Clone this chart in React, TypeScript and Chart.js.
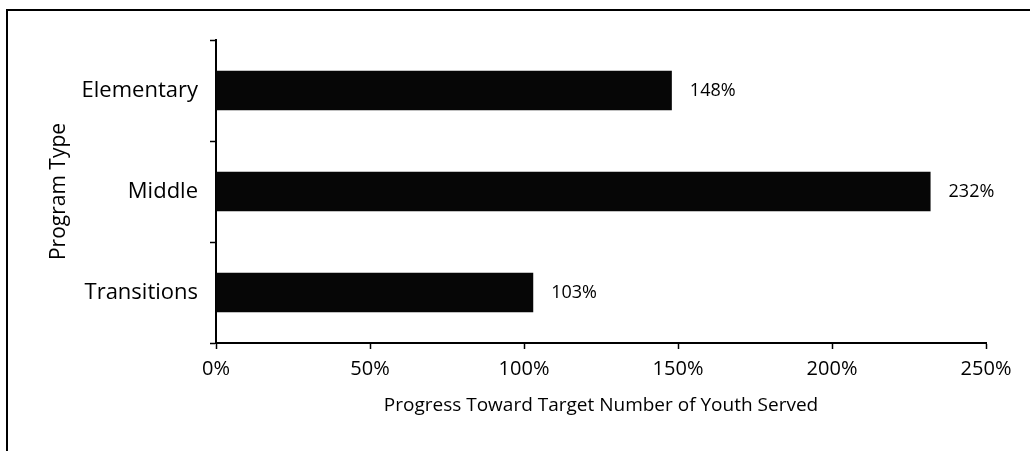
import React, { useEffect, useRef } from "react";
import { Chart, registerables } from "chart.js";

Chart.register(...registerables);

const categories = ["Elementary", "Middle", "Transitions"];
const progressValues = [148, 232, 103];
const xTickValues = [0, 50, 100, 150, 200, 250];
const xAxisTitle = "Progress Toward Target Number of Youth Served";
const yAxisTitle = "Program Type";

const FONT = "'Open Sans', 'DejaVu Sans', sans-serif";

const dataLabelPlugin = {
  id: "dataLabels",
  afterDatasetsDraw(chart: any) {
    const ctx = chart.ctx;
    const meta = chart.getDatasetMeta(0);
    ctx.save();
    ctx.font = `18px ${FONT}`;
    ctx.fillStyle = "#000";
    ctx.textAlign = "left";
    ctx.textBaseline = "middle";
    meta.data.forEach((bar: any, i: number) => {
      const v = chart.data.datasets[0].data[i];
      ctx.fillText(`${v}%`, bar.x + 18, bar.y);
    });
    ctx.restore();
  },
};

export default function App() {
  const canvasRef = useRef<HTMLCanvasElement | null>(null);

  useEffect(() => {
    if (!canvasRef.current) return;
    const chart = new Chart(canvasRef.current, {
      type: "bar",
      data: {
        labels: categories,
        datasets: [
          {
            data: progressValues,
            backgroundColor: "#060606",
            borderWidth: 0,
            barPercentage: 0.39,
            categoryPercentage: 1,
          },
        ],
      },
      options: {
        indexAxis: "y",
        animation: false,
        responsive: false,
        maintainAspectRatio: false,
        layout: { padding: { top: 40, right: 44, left: 0, bottom: 0 } },
        plugins: {
          legend: { display: false },
          tooltip: { enabled: false },
        },
        scales: {
          x: {
            min: 0,
            max: 250,
            afterBuildTicks: (scale: any) => {
              scale.ticks = xTickValues.map((v) => ({ value: v }));
            },
            afterFit: (scale: any) => {
              scale.height = 108;
            },
            ticks: {
              color: "#000",
              font: { family: FONT, size: 20 },
              padding: 8,
              callback: (v: any) => `${v}%`,
            },
            grid: {
              drawOnChartArea: false,
              drawTicks: true,
              tickLength: 6,
              tickColor: "#000",
              tickWidth: 1.5,
            },
            border: { display: true, color: "#000", width: 2 },
            title: {
              display: true,
              text: xAxisTitle,
              color: "#000",
              font: { family: FONT, size: 19 },
              padding: { top: 0, bottom: 34 },
            },
          },
          y: {
            afterFit: (scale: any) => {
              scale.width = 216;
            },
            ticks: {
              color: "#000",
              font: { family: FONT, size: 22 },
              padding: 12,
            },
            grid: {
              offset: true,
              drawOnChartArea: false,
              drawTicks: true,
              tickLength: 6,
              tickColor: "#000",
              tickWidth: 1.5,
            },
            border: { display: true, color: "#000", width: 2 },
            title: {
              display: true,
              text: yAxisTitle,
              color: "#000",
              font: { family: FONT, size: 21 },
              padding: { top: 46, bottom: 0 },
            },
          },
        },
      },
      plugins: [dataLabelPlugin],
    });
    return () => chart.destroy();
  }, []);

  return (
    <div style={{ position: "fixed", left: 0, top: 0, width: 1030, height: 451, background: "#fff" }}>
      <canvas
        ref={canvasRef}
        width={1030}
        height={451}
        style={{ position: "absolute", left: 0, top: 0, width: 1030, height: 451 }}
      />
      <div
        style={{
          position: "absolute",
          left: 6,
          top: 9,
          width: 1030,
          height: 450,
          borderTop: "2px solid #000",
          borderLeft: "2px solid #000",
          pointerEvents: "none",
        }}
      />
    </div>
  );
}
